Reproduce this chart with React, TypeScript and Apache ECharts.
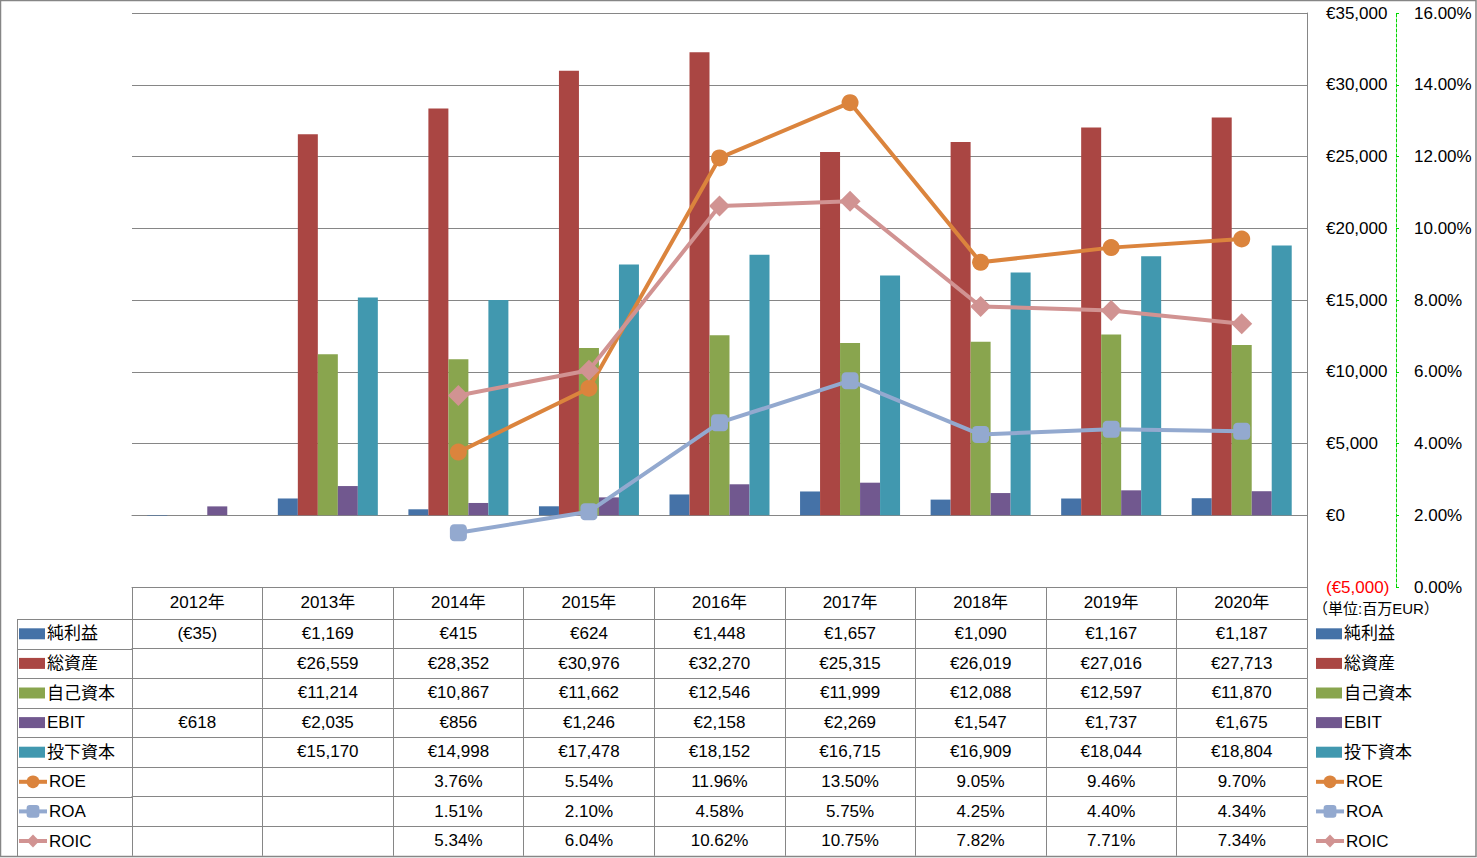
import React, { useEffect, useRef } from "react";
import * as echarts from "echarts";

const years = ["2012年", "2013年", "2014年", "2015年", "2016年", "2017年", "2018年", "2019年", "2020年"];
const netIncome = [-35, 1169, 415, 624, 1448, 1657, 1090, 1167, 1187];
const totalAssets = [null, 26559, 28352, 30976, 32270, 25315, 26019, 27016, 27713];
const equity = [null, 11214, 10867, 11662, 12546, 11999, 12088, 12597, 11870];
const ebit = [618, 2035, 856, 1246, 2158, 2269, 1547, 1737, 1675];
const investedCapital = [null, 15170, 14998, 17478, 18152, 16715, 16909, 18044, 18804];
const roe = [null, null, 3.76, 5.54, 11.96, 13.5, 9.05, 9.46, 9.7];
const roa = [null, null, 1.51, 2.1, 4.58, 5.75, 4.25, 4.4, 4.34];
const roic = [null, null, 5.34, 6.04, 10.62, 10.75, 7.82, 7.71, 7.34];

const eurMin = -5000;
const eurMax = 35000;
const eurStep = 5000;
const pctMin = 0;
const pctMax = 16;
const pctStep = 2;

const barNames = ["純利益", "総資産", "自己資本", "EBIT", "投下資本"];
const lineNames = ["ROE", "ROA", "ROIC"];
const barColors = ["#4572A7", "#AA4643", "#89A54E", "#71588F", "#4198AF"];
const lineColors = ["#DB843D", "#93A9CF", "#D19392"];
const lineSymbols = ["circle", "roundRect", "diamond"];
const lineSymbolSizes = [17, 17, 21];
const unitLabel = "（単位:百万EUR）";

const FONT = "'Liberation Sans', 'Noto Sans CJK JP', sans-serif";
const GRID_COLOR = "#868686";

const fmtEur = (v: number | null) => {
  if (v === null || v === undefined) return "";
  const s = "€" + Math.abs(v).toLocaleString("en-US");
  return v < 0 ? "(" + s + ")" : s;
};
const fmtPct = (v: number | null) => (v === null || v === undefined ? "" : v.toFixed(2) + "%");

export default function App() {
  const ref = useRef<HTMLDivElement>(null);

  useEffect(() => {
    document.body.style.margin = "0";
    if (!ref.current) return;
    const chart = echarts.init(ref.current, undefined, { renderer: "svg" });

    const plotLeft = 132;
    const plotRight = 1307;
    const plotTop = 13;
    const plotBottom = 587;
    const W = 1477;
    const H = 858;
    const headerH = 32;
    const rowH = 29.6;
    const textLH = 19.6;

    const barSeries = [netIncome, totalAssets, equity, ebit, investedCapital];
    const lineSeries = [roe, roa, roic];
    const tableRows = [
      ...barSeries.map((d) => d.map(fmtEur)),
      ...lineSeries.map((d) => d.map(fmtPct)),
    ];

    const xAxes: any[] = [
      {
        type: "category",
        data: years,
        gridIndex: 0,
        axisLine: { show: true, onZero: true, onZeroAxisIndex: 0, lineStyle: { color: GRID_COLOR, width: 1 } },
        axisTick: { show: false },
        axisLabel: { show: false },
        splitLine: { show: false },
      },
      {
        type: "category",
        data: years,
        position: "bottom",
        offset: 0,
        axisLine: { show: true, onZero: false, lineStyle: { color: GRID_COLOR, width: 1 } },
        axisTick: { show: true, interval: 0, length: headerH, lineStyle: { color: GRID_COLOR, width: 1 } },
        axisLabel: { show: true, interval: 0, margin: 7, fontSize: 17, color: "#000", fontFamily: FONT },
        splitLine: { show: false },
      },
      ...tableRows.map((row, k) => ({
        type: "category",
        data: row,
        position: "bottom",
        offset: headerH + rowH * k,
        axisLine: { show: true, onZero: false, lineStyle: { color: GRID_COLOR, width: 1 } },
        axisTick: { show: true, interval: 0, length: rowH, lineStyle: { color: GRID_COLOR, width: 1 } },
        axisLabel: { show: true, interval: 0, margin: 6, fontSize: 17, color: "#000", fontFamily: FONT },
        splitLine: { show: false },
      })),
    ];

    const firstRowCenter = plotBottom + headerH + rowH / 2;
    const legendText = {
      fontSize: 17,
      lineHeight: textLH,
      color: "#000",
      fontFamily: FONT,
      padding: [0, 0, 0, -3],
    };
    const barLegend = {
      orient: "vertical",
      top: firstRowCenter - textLH / 2,
      itemGap: rowH - textLH,
      itemWidth: 26,
      itemHeight: 11,
      selectedMode: false,
      padding: 0,
      textStyle: legendText,
      data: barNames.map((n) => ({ name: n, icon: "rect" })),
    };
    const lineLegend = {
      orient: "vertical",
      top: firstRowCenter + rowH * barNames.length - textLH / 2,
      itemGap: rowH - textLH,
      itemWidth: 28,
      itemHeight: 16,
      selectedMode: false,
      padding: 0,
      textStyle: legendText,
      lineStyle: { width: 4 },
      data: lineNames.map((n) => ({ name: n })),
    };

    const rowLines: any[] = [];
    for (let k = 0; k < 8; k++) {
      const y = Math.round(plotBottom + headerH + rowH * k) + 0.5;
      rowLines.push({
        type: "line",
        shape: { x1: 17, y1: y, x2: plotLeft, y2: y },
        style: { stroke: GRID_COLOR, lineWidth: 1 },
      });
    }

    chart.setOption({
      animation: false,
      backgroundColor: "#fff",
      textStyle: { fontFamily: FONT },
      grid: {
        left: plotLeft,
        right: W - plotRight,
        top: plotTop,
        bottom: H - plotBottom,
        containLabel: false,
      },
      legend: [
        { ...barLegend, left: 19 },
        { ...lineLegend, left: 17 },
        { ...barLegend, left: 1316 },
        { ...lineLegend, left: 1314 },
      ],
      xAxis: xAxes,
      yAxis: [
        {
          type: "value",
          position: "right",
          min: eurMin,
          max: eurMax,
          interval: eurStep,
          axisLine: { show: true, onZero: false, lineStyle: { color: GRID_COLOR, width: 1 } },
          axisTick: { show: false },
          splitLine: { show: true, lineStyle: { color: GRID_COLOR, width: 1 } },
          axisLabel: {
            margin: 19,
            fontSize: 17,
            fontFamily: FONT,
            formatter: (v: number) => fmtEur(v),
            color: (v: any) => (Number(v) < 0 ? "#FF0000" : "#000"),
          },
        },
        {
          type: "value",
          position: "right",
          offset: 89,
          min: pctMin,
          max: pctMax,
          interval: pctStep,
          axisLine: { show: true, onZero: false, lineStyle: { color: "#00D800", width: 1, type: [3, 2] } },
          axisTick: { show: true, length: 3, lineStyle: { color: "#00D800", width: 1 } },
          splitLine: { show: false },
          axisLabel: {
            margin: 18,
            fontSize: 17,
            fontFamily: FONT,
            color: "#000",
            formatter: (v: number) => v.toFixed(2) + "%",
          },
        },
      ],
      series: [
        ...barSeries.map((d, i) => ({
          name: barNames[i],
          type: "bar",
          xAxisIndex: 0,
          yAxisIndex: 0,
          data: d,
          barWidth: 20,
          barGap: "0%",
          itemStyle: { color: barColors[i] },
        })),
        ...lineSeries.map((d, i) => ({
          name: lineNames[i],
          type: "line",
          xAxisIndex: 0,
          yAxisIndex: 1,
          data: d,
          symbol: lineSymbols[i],
          symbolSize: lineSymbolSizes[i],
          showSymbol: true,
          connectNulls: false,
          lineStyle: { color: lineColors[i], width: 4 },
          itemStyle: { color: lineColors[i] },
          z: 5,
        })),
      ],
      graphic: [
        {
          type: "rect",
          shape: { x: 0.5, y: 0.5, width: W - 1.5, height: 856 },
          style: { fill: "none", stroke: GRID_COLOR, lineWidth: 1.5 },
          silent: true,
        },
        ...rowLines,
        {
          type: "line",
          shape: { x1: 17.5, y1: plotBottom + headerH, x2: 17.5, y2: 856 },
          style: { stroke: GRID_COLOR, lineWidth: 1 },
        },
        {
          type: "text",
          left: 1313,
          top: 601,
          style: { text: unitLabel, fontSize: 15, fill: "#000", fontFamily: FONT },
        },
      ],
    });

    return () => chart.dispose();
  }, []);

  return <div ref={ref} style={{ width: 1477, height: 858 }} />;
}
